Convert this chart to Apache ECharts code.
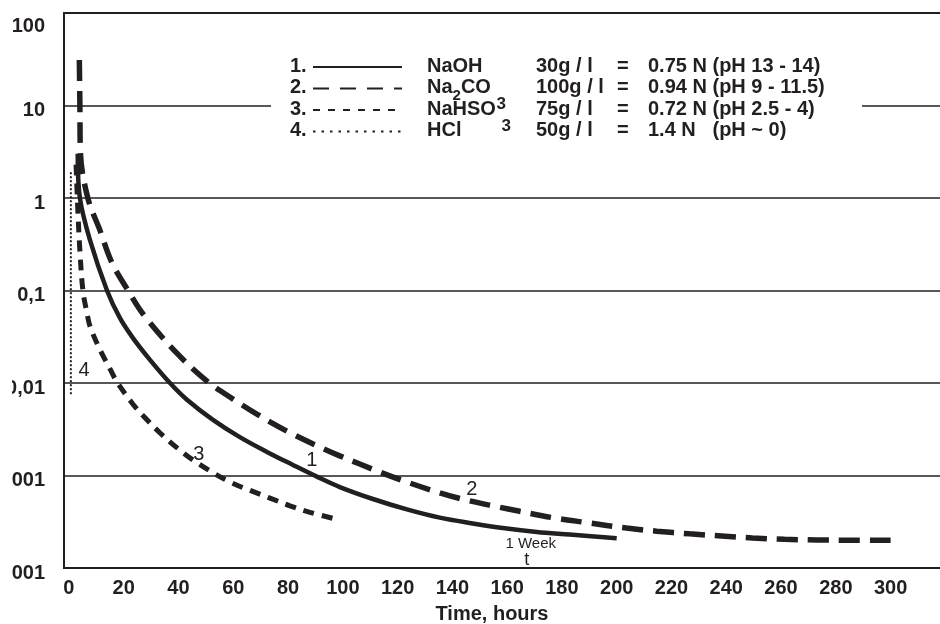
<!DOCTYPE html>
<html>
<head>
<meta charset="utf-8">
<script src="https://cdn.jsdelivr.net/npm/echarts@6/dist/echarts.min.js"></script>
<style>
  html, body { margin: 0; padding: 0; background: #fff; }
  #chart { width: 940px; height: 624px; }
</style>
</head>
<body>
<div id="chart"></div>
<script>
// values (hours, concentration on a log scale)
const naohT = [3.2, 4.0, 7.7, 13.9, 18.6, 23.4, 29.6, 36.9, 43.1, 52.6, 62.4, 72.3, 81.8, 90.9, 98.9, 111, 123.4, 135.4, 147.4, 158.4, 170.8, 182.8, 200]
const naohV = [3.0, 1.0, 0.35, 0.1, 0.0505, 0.0306, 0.0178, 0.01, 0.0066, 0.004, 0.0026, 0.0018, 0.0013, 0.00096, 0.00075, 0.000557, 0.00043, 0.00035, 0.000303, 0.00027, 0.000245, 0.00023, 0.00021]

const na2co3T = [3.8, 4.0, 4.2, 6.9, 11.3, 15.7, 21.5, 27.4, 39.4, 50.4, 59.9, 69.7, 80.7, 91.6, 98.9, 113.5, 123.4, 135.4, 145.3, 156.2, 164.6, 176.6, 189, 203.6, 214.6, 226.6, 238.3, 249.6, 261.3, 273, 284.7, 300]
const na2co3V = [31, 10, 3.1, 1.0, 0.45, 0.2, 0.101, 0.054, 0.021, 0.0105, 0.0067, 0.0044, 0.0029, 0.00203, 0.00163, 0.00109, 0.00085, 0.00065, 0.00054, 0.00046, 0.00041, 0.00035, 0.00031, 0.00027, 0.00025, 0.000234, 0.000222, 0.000211, 0.000204, 0.000201, 0.0002, 0.0002]

const nahso3T = [2.6, 3.3, 4.0, 5.1, 6.6, 7.7, 11.3, 15, 17.5, 23.4, 28.5, 33.2, 39.4, 45.3, 52.2, 58.8, 66.1, 73.4, 80.7, 88, 97.1]
const nahso3V = [2.3, 0.69, 0.27, 0.1, 0.057, 0.041, 0.023, 0.0142, 0.0103, 0.0059, 0.004, 0.0029, 0.002, 0.00147, 0.00109, 0.00085, 0.00069, 0.00057, 0.00047, 0.0004, 0.00034]

const hclT = [0.7, 0.7]
const hclV = [1.9, 0.0074]

const xTicks = [0, 20, 40, 60, 80, 100, 120, 140, 160, 180, 200, 220, 240, 260, 280, 300]
const yTickLabels = ['0,0001', '0,001', '0,01', '0,1', '1', '10', '100']
const xName = 'Time, hours'

// curve tags: text, hours, value
const curveTags = [
  ['1', 88.7, 0.00144],
  ['2', 147.1, 0.0007],
  ['3', 47.4, 0.0017],
  ['4', 5.5, 0.0135],
  ['1 Week', 168.6, 0.000182],
  ['t', 167.2, 0.000123],
]

const legendRows = [
  ['1.', 'NaOH', '30g / l', '=', '0.75 N (pH 13 - 14)'],
  ['2.', 'Na{s2|2}CO {s3|3}', '100g / l', '=', '0.94 N (pH 9 - 11.5)'],
  ['3.', 'NaHSO {s3|3}', '75g / l', '=', '0.72 N (pH 2.5 - 4)'],
  ['4.', 'HCl', '50g / l', '=', '1.4 N   (pH ~ 0)'],
]

const INK = '#231f20'
const FONT = "'Liberation Sans', Arial, sans-serif"

const pairs = (ts, vs) => ts.map((t, i) => [t, vs[i]])

const tagSize = { '1 Week': 15, 't': 18 }

function legendGraphic() {
  const dashes = [null, [16, 11], [7, 8], [2.5, 6]]
  const els = [
    { type: 'rect', z: 1, shape: { x: 271, y: 45, width: 591, height: 100 }, style: { fill: '#fff' } },
    // the scan is cut off at the left edge
    { type: 'rect', z: 20, shape: { x: 0, y: 0, width: 12, height: 624 }, style: { fill: '#fff' } },
  ]
  const txt = (x, y, text, extra) => ({
    type: 'text', z: 5, x, y,
    style: Object.assign({
      text, fill: INK, fontSize: 20, fontWeight: 'bold', fontFamily: FONT,
      align: 'left', verticalAlign: 'middle',
    }, extra || {}),
  })
  legendRows.forEach((r, i) => {
    const y = 66 + i * 21.5
    els.push(txt(290, y, r[0]))
    els.push({
      type: 'line', z: 5,
      shape: { x1: 313, y1: y + 1, x2: 402, y2: y + 1 },
      style: { stroke: INK, lineWidth: 2, lineDash: dashes[i] },
    })
    els.push(txt(427, y, r[1], {
      rich: {
        s2: { fontSize: 15, fontWeight: 'bold', fontFamily: FONT, fill: INK, padding: [16, 0, 0, 0] },
        s3: { fontSize: 17, fontWeight: 'bold', fontFamily: FONT, fill: INK, padding: [34, 0, 0, 0] },
      },
    }))
    els.push(txt(536, y, r[2]))
    els.push(txt(617, y, r[3]))
    els.push(txt(648, y, r[4]))
  })
  return els
}

const chart = echarts.init(document.getElementById('chart'), null, { renderer: 'canvas' })

const yLabelFont = { color: INK, fontSize: 20, fontWeight: 'bold', fontFamily: FONT }

chart.setOption({
  animation: false,
  backgroundColor: '#fff',
  grid: {
    left: 64, right: -4, top: 13, bottom: 56,
    outerBoundsMode: 'none',
    containLabel: false,
    show: true, borderColor: INK, borderWidth: 2,
  },
  xAxis: {
    type: 'value',
    min: -1.8,
    max: 319.5,
    axisLine: { show: false },
    axisTick: { show: false },
    splitLine: { show: false },
    axisLabel: {
      customValues: xTicks,
      color: INK, fontSize: 20, fontWeight: 'bold', fontFamily: FONT, margin: 10,
    },
    name: xName,
    nameLocation: 'middle',
    nameGap: 36,
    nameTextStyle: { color: INK, fontSize: 20, fontWeight: 'bold', fontFamily: FONT, padding: [0, 24, 0, 0] },
  },
  yAxis: {
    type: 'log',
    logBase: 10,
    min: 0.0001,
    max: 100,
    splitNumber: 6,
    axisLine: { show: false },
    axisTick: { show: false },
    splitLine: { show: true, lineStyle: { color: INK, width: 1.5 } },
    axisLabel: {
      ...yLabelFont,
      margin: 19,
      verticalAlignMaxLabel: 'top',
      formatter: v => {
        const i = Math.round(Math.log10(v)) + 4
        return (i === yTickLabels.length - 1 ? '{m|' : '{n|') + yTickLabels[i] + '}'
      },
      rich: {
        n: { ...yLabelFont, padding: [10, 0, 0, 0] },
        m: { ...yLabelFont, padding: [3, 0, 0, 0] },
      },
    },
  },
  series: [
    {
      name: 'NaOH', type: 'line', data: pairs(naohT, naohV),
      smooth: 0.35, symbol: 'none', z: 3,
      lineStyle: { color: INK, width: 4.5 },
      markPoint: {
        symbol: 'circle', symbolSize: 0.01,
        itemStyle: { color: 'transparent' },
        label: { show: true, position: 'inside', color: INK, fontSize: 20, fontFamily: FONT, formatter: p => p.name },
        data: curveTags.map(([text, t, v]) => ({
          name: text, coord: [t, v],
          label: { fontSize: tagSize[text] || 20 },
        })),
      },
    },
    {
      name: 'Na2CO3', type: 'line', data: pairs(na2co3T, na2co3V),
      smooth: 0.35, symbol: 'none', z: 3,
      lineStyle: { color: INK, width: 5.5, type: [21, 10], cap: 'butt' },
    },
    {
      name: 'NaHSO3', type: 'line', data: pairs(nahso3T, nahso3V),
      smooth: 0.35, symbol: 'none', z: 3,
      lineStyle: { color: INK, width: 5, type: [11, 8], cap: 'butt' },
    },
    {
      name: 'HCl', type: 'line', data: pairs(hclT, hclV),
      symbol: 'none', z: 3,
      lineStyle: { color: INK, width: 2, type: [2, 2], cap: 'butt' },
    },
  ],
  graphic: legendGraphic(),
})
</script>
</body>
</html>
